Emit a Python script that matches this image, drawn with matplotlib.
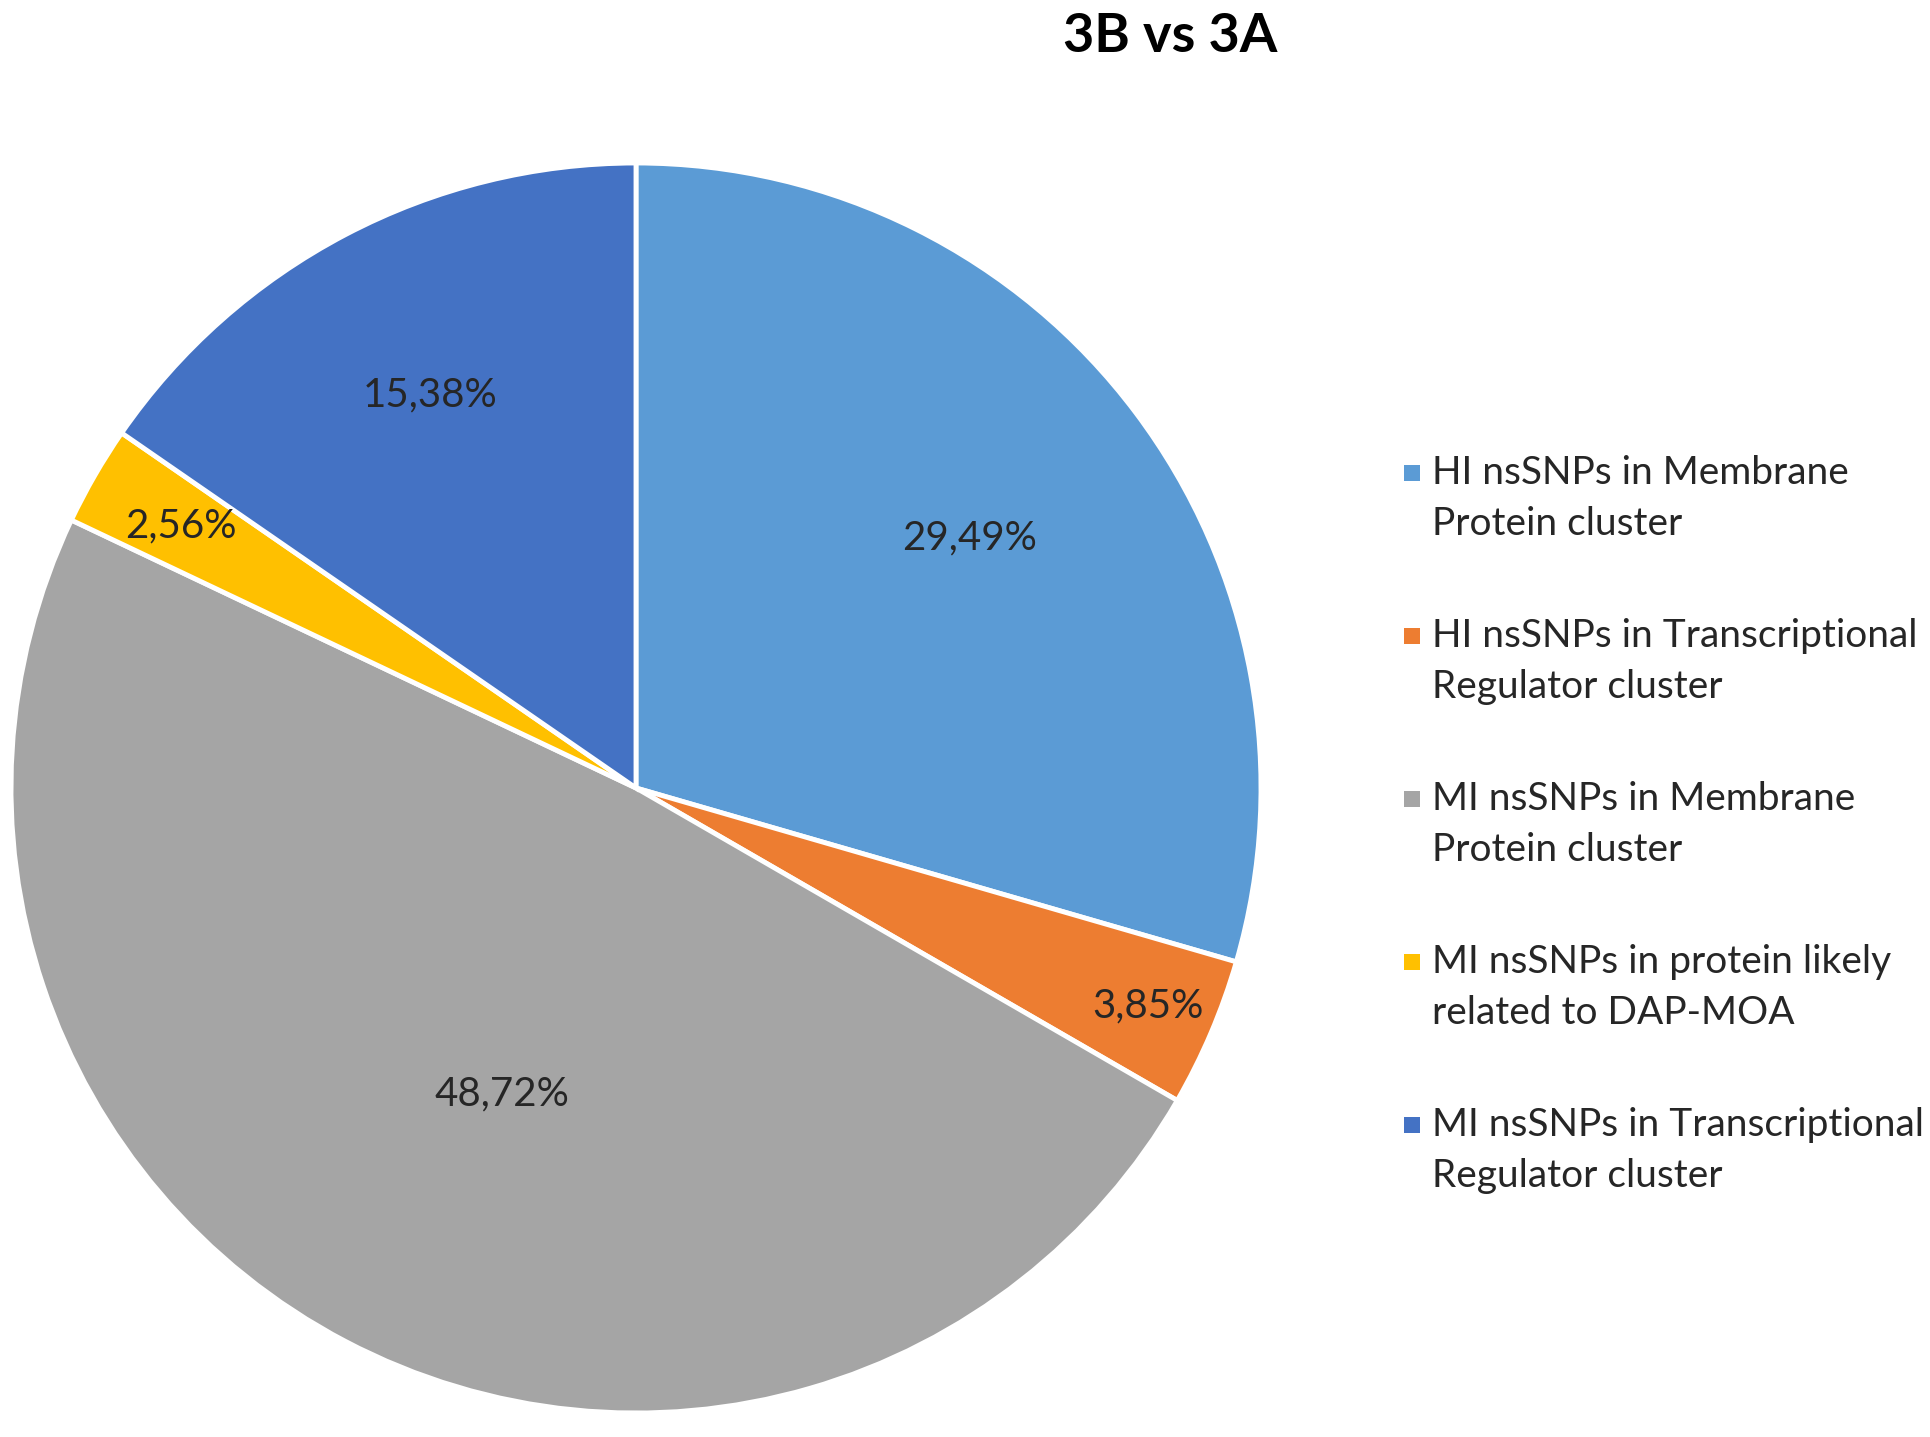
import matplotlib
matplotlib.use("Agg")
import numpy as np
import matplotlib.pyplot as plt
from matplotlib.patches import Rectangle

# data: counts of nsSNPs per category (78 in total)
categories = [
    "HI nsSNPs in Membrane\nProtein cluster",
    "HI nsSNPs in Transcriptional\nRegulator cluster",
    "MI nsSNPs in Membrane\nProtein cluster",
    "MI nsSNPs in protein likely\nrelated to DAP-MOA",
    "MI nsSNPs in Transcriptional\nRegulator cluster",
]
counts = [23, 3, 38, 2, 12]
pct_labels = ["29,49%", "3,85%", "48,72%", "2,56%", "15,38%"]
colors = ["#5B9BD5", "#ED7D31", "#A5A5A5", "#FFC000", "#4472C4"]

# where each percentage label sits: fraction of radius, angle nudge (deg)
label_radius = [0.667, 0.89, 0.535, 0.84, 0.71]
label_nudge = [0, 0, 4, 0, 0]

plt.rcParams['font.family'] = ['Lato', 'DejaVu Sans']
text_color = '#262626'

W, H = 1931, 1437
fig = plt.figure(figsize=(W / 100, H / 100), dpi=100)

# pie axes: center (636, 788) px, radius 625 px
cx, cy, r = 636, 788, 625
ax = fig.add_axes([(cx - r) / W, (H - cy - r) / H, 2 * r / W, 2 * r / H])
wedges, _ = ax.pie(counts, colors=colors, startangle=90, counterclock=False,
                   radius=1.0, wedgeprops=dict(edgecolor='white', linewidth=3.5))
ax.set_xlim(-1, 1)
ax.set_ylim(-1, 1)
ax.set_aspect('equal')
ax.axis('off')

# percentage labels inside each wedge
for w, lab, rr, dn in zip(wedges, pct_labels, label_radius, label_nudge):
    ang = np.deg2rad((w.theta1 + w.theta2) / 2 + dn)
    ax.text(rr * np.cos(ang), rr * np.sin(ang), lab, ha='center', va='center',
            fontsize=29, color=text_color)

fig.text(1170 / W, 1 - 37 / H, "3B vs 3A", ha='center', va='center',
         fontsize=39, fontweight='bold', color='black')

# legend, drawn by hand so the marker sits on the first text line
leg_x, leg_y0, entry_step, line_step, box = 1404, 473, 163, 51, 16
for i, (c, lab) in enumerate(zip(colors, categories)):
    y = leg_y0 + i * entry_step
    fig.add_artist(Rectangle((leg_x / W, 1 - (y + box / 2) / H), box / W, box / H,
                             transform=fig.transFigure, facecolor=c, edgecolor='none'))
    for j, line in enumerate(lab.split("\n")):
        fig.text((leg_x + 28) / W, 1 - (y + j * line_step) / H, line,
                 ha='left', va='center', fontsize=28, color=text_color)

fig.savefig("out.png", dpi=100)
